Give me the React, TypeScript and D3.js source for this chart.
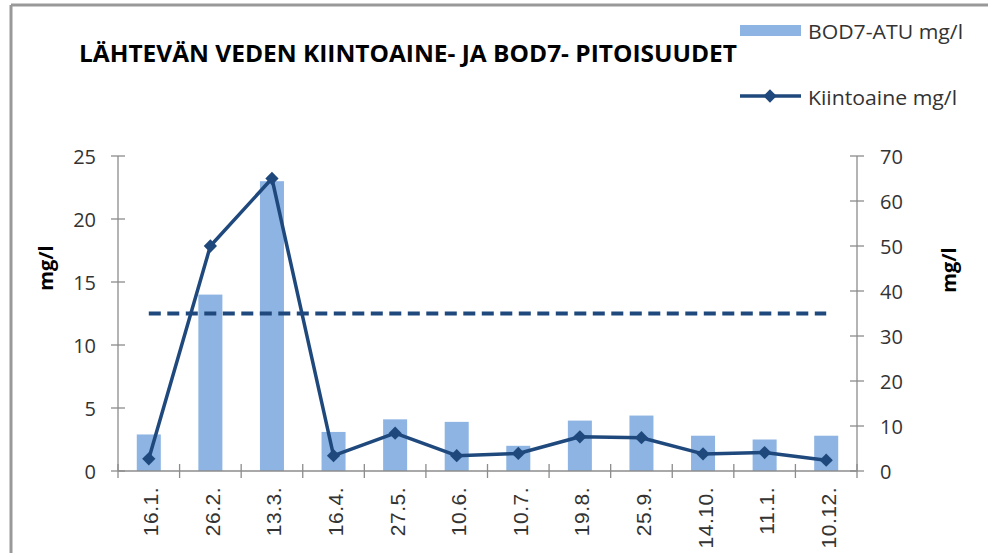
import React, { useEffect } from 'react';
import * as d3 from 'd3';

const categories = ['16.1.', '26.2.', '13.3.', '16.4.', '27.5.', '10.6.', '10.7.', '19.8.', '25.9.', '14.10.', '11.1.', '10.12.'];
const bodValues = [2.9, 14.0, 23.0, 3.1, 4.1, 3.9, 2.0, 4.0, 4.4, 2.8, 2.5, 2.8];
const solidsValues = [2.7, 50, 65, 3.4, 8.4, 3.4, 3.9, 7.6, 7.4, 3.8, 4.1, 2.4];
const limitValues = [35, 35, 35, 35, 35, 35, 35, 35, 35, 35, 35, 35];
const leftTicks = [0, 5, 10, 15, 20, 25];
const rightTicks = [0, 10, 20, 30, 40, 50, 60, 70];

const titleText = 'LÄHTEVÄN VEDEN KIINTOAINE- JA BOD7- PITOISUUDET';
const barLabel = 'BOD7-ATU mg/l';
const lineLabel = 'Kiintoaine mg/l';

const W = 988;
const H = 553;
const plot = { left: 118, right: 857, top: 156, bottom: 471 };

const barColor = '#8DB4E2';
const lineColor = '#1F497D';
const axisColor = '#8C8C8C';
const textColor = '#333333';
const numFont = "'Open Sans', sans-serif";

const App = () => {
  useEffect(() => {
    document.body.style.margin = '0';
  }, []);

  const x = d3.scaleBand().domain(categories).range([plot.left, plot.right]).padding(0);
  const yLeft = d3.scaleLinear().domain([0, 25]).range([plot.bottom, plot.top]);
  const yRight = d3.scaleLinear().domain([0, 70]).range([plot.bottom, plot.top]);

  const cx = (c) => x(c) + x.bandwidth() / 2;
  const barW = x.bandwidth() * 0.39;

  const solidsLine = d3.line()
    .x((d, i) => cx(categories[i]))
    .y((d) => yRight(d));

  const diamond = d3.symbol(d3.symbolSquare, 88)();

  const catTicks = d3.range(categories.length + 1).map((i) => plot.left + i * x.bandwidth());

  return (
    <svg width={W} height={H} style={{ display: 'block', position: 'absolute', left: 0, top: 0, background: '#fff' }}>
      {/* frame */}
      <line x1={11} x2={W} y1={5} y2={5} stroke="#999" strokeWidth={3} />
      <line x1={11} x2={11} y1={5} y2={H} stroke="#999" strokeWidth={3} />

      {/* title */}
      <text
        x={79}
        y={62}
        fontFamily="'Liberation Sans Narrow', 'Open Sans', sans-serif"
        fontWeight="bold"
        fontSize={24}
        textLength={658}
        lengthAdjust="spacingAndGlyphs"
        fill="#000"
      >
        {titleText}
      </text>

      {/* legend */}
      <rect x={740} y={25} width={61} height={11} fill={barColor} />
      <text x={808} y={31} dominantBaseline="central" fontFamily={numFont} fontSize={20} textLength={155} lengthAdjust="spacingAndGlyphs" fill={textColor}>{barLabel}</text>
      <line x1={740} x2={801} y1={96} y2={96} stroke={lineColor} strokeWidth={3.5} />
      <path d={diamond} transform="translate(770,96) rotate(45)" fill={lineColor} />
      <text x={808} y={97} dominantBaseline="central" fontFamily={numFont} fontSize={20} textLength={149} lengthAdjust="spacingAndGlyphs" fill={textColor}>{lineLabel}</text>

      {/* bars */}
      {bodValues.map((v, i) => (
        <rect
          key={categories[i]}
          x={cx(categories[i]) - barW / 2}
          y={yLeft(v)}
          width={barW}
          height={plot.bottom - yLeft(v)}
          fill={barColor}
        />
      ))}

      {/* axes */}
      <line x1={plot.left} x2={plot.left} y1={plot.top} y2={plot.bottom} stroke={axisColor} strokeWidth={1.3} />
      <line x1={plot.right} x2={plot.right} y1={plot.top} y2={plot.bottom} stroke={axisColor} strokeWidth={1.3} />
      <line x1={plot.left} x2={plot.right} y1={plot.bottom} y2={plot.bottom} stroke={axisColor} strokeWidth={1.3} />

      {leftTicks.map((t) => (
        <g key={'l' + t}>
          <line x1={plot.left - 7} x2={plot.left + 7} y1={yLeft(t)} y2={yLeft(t)} stroke={axisColor} strokeWidth={1.3} />
          <text x={96} y={yLeft(t)} textAnchor="end" dominantBaseline="central" fontFamily={numFont} fontSize={20} fill={textColor}>{t}</text>
        </g>
      ))}
      {rightTicks.map((t) => (
        <g key={'r' + t}>
          <line x1={plot.right - 7} x2={plot.right + 7} y1={yRight(t)} y2={yRight(t)} stroke={axisColor} strokeWidth={1.3} />
          <text x={880} y={yRight(t)} dominantBaseline="central" fontFamily={numFont} fontSize={20} fill={textColor}>{t}</text>
        </g>
      ))}
      {catTicks.map((tx, i) => (
        <line key={'c' + i} x1={tx} x2={tx} y1={plot.bottom - 7} y2={plot.bottom + 7} stroke={axisColor} strokeWidth={1.3} />
      ))}
      {categories.map((c) => (
        <text
          key={'t' + c}
          transform={`translate(${cx(c) + 2},${487}) rotate(-90)`}
          textAnchor="end"
          dominantBaseline="central"
          fontFamily="'Liberation Sans', Arial, sans-serif"
          fontSize={21}
          letterSpacing={0.5}
          fill={textColor}
        >
          {c}
        </text>
      ))}

      {/* axis titles */}
      <text transform="translate(45,268) rotate(-90)" textAnchor="middle" dominantBaseline="central" fontFamily={numFont} fontWeight="bold" fontSize={20} fill="#000">mg/l</text>
      <text transform="translate(948,270) rotate(-90)" textAnchor="middle" dominantBaseline="central" fontFamily={numFont} fontWeight="bold" fontSize={20} fill="#000">mg/l</text>

      {/* limit line */}
      <path d={solidsLine(limitValues)} fill="none" stroke={lineColor} strokeWidth={4} strokeDasharray="12 6.5" />

      {/* solids line */}
      <path d={solidsLine(solidsValues)} fill="none" stroke={lineColor} strokeWidth={3.5} strokeLinejoin="round" />
      {solidsValues.map((v, i) => (
        <path key={'m' + i} d={diamond} transform={`translate(${cx(categories[i])},${yRight(v)}) rotate(45)`} fill={lineColor} />
      ))}
    </svg>
  );
};

export default App;
